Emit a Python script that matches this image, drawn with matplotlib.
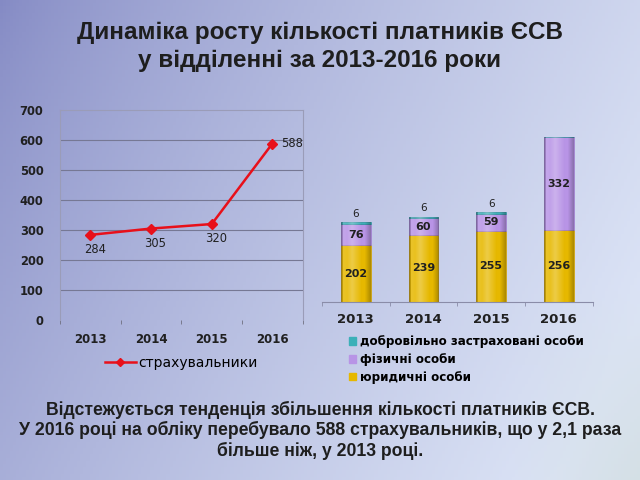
import numpy as np
import matplotlib.pyplot as plt
from matplotlib.lines import Line2D
from matplotlib.patches import Patch

years = ['2013', '2014', '2015', '2016']
insurers = [284, 305, 320, 588]
legal = [202, 239, 255, 256]
physical = [76, 60, 59, 332]
voluntary = [6, 6, 6, 0]

title = 'Динаміка росту кількості платників ЄСВ\nу відділенні за 2013-2016 роки'
note = ('Відстежується тенденція збільшення кількості платників ЄСВ.\n'
        'У 2016 році на обліку перебувало 588 страхувальників, що у 2,1 раза\n'
        'більше ніж, у 2013 році.')

fig = plt.figure(figsize=(6.4, 4.8), dpi=100)

# background gradient
bg = fig.add_axes([0, 0, 1, 1], zorder=-10)
xx, yy = np.meshgrid(np.linspace(0, 1, 200), np.linspace(0, 1, 150))
t = np.clip(0.8 * xx + 0.3 * yy, 0, 1) ** 0.75
c0 = np.array([0x84, 0x8a, 0xc4]) / 255
c1 = np.array([0xdc, 0xe4, 0xf6]) / 255
img = c0[None, None, :] * (1 - t[..., None]) + c1[None, None, :] * t[..., None]
# slight greenish tint in the bottom-right corner
g = np.clip((xx - 0.8) / 0.2, 0, 1) * np.clip((yy - 0.6) / 0.4, 0, 1)
img = img * (1 - 0.35 * g[..., None]) + np.array([0.78, 0.85, 0.78]) * 0.35 * g[..., None]
bg.imshow(img, aspect='auto', extent=[0, 1, 0, 1], origin='upper')
bg.axis('off')

fig.text(0.5, 0.903, title, ha='center', va='center', fontsize=17.5,
         fontweight='bold', family='Liberation Sans', color='#1e1e1e',
         linespacing=1.28)
fig.text(0.5, 0.104, note, ha='center', va='center', fontsize=12.7,
         fontweight='bold', family='Liberation Sans', color='#1e1e1e',
         linespacing=1.18)

# line chart
ax = fig.add_axes([0.094, 0.333, 0.379, 0.438])
ax.patch.set_alpha(0)
x = np.arange(len(years))
ax.plot(x, insurers, color='#e8101a', lw=1.8, marker='D', ms=5,
        markeredgecolor='#e8101a', zorder=3)
for i, v in enumerate(insurers):
    if i == len(insurers) - 1:
        ax.annotate(str(v), (i, v), xytext=(6, 0), textcoords='offset points',
                    ha='left', va='center', fontsize=8.3, color='#202020')
    else:
        ax.annotate(str(v), (i, v), xytext=(3, -6), textcoords='offset points',
                    ha='center', va='top', fontsize=8.3, color='#202020')
ax.set_xlim(-0.5, 3.5)
ax.set_ylim(0, 700)
ax.set_yticks(range(0, 701, 100))
ax.set_xticks(x)
ax.set_xticklabels(years, fontsize=8.5, fontweight='bold', color='#202020')
ax.set_xticks(np.arange(-0.5, 4, 1), minor=True)
ax.tick_params(axis='x', which='major', length=0, pad=9)
ax.tick_params(axis='x', which='minor', length=3, color='#707080')
ax.tick_params(axis='y', length=0, pad=12, labelsize=8.3)
for lab in ax.get_yticklabels():
    lab.set_fontweight('bold')
    lab.set_color('#202020')
for yv in range(100, 700, 100):
    ax.axhline(yv, color='#767894', lw=0.8, zorder=1)
for s in ['left', 'right', 'top']:
    ax.spines[s].set_color('#9a9cb8')
    ax.spines[s].set_linewidth(0.8)
ax.spines['bottom'].set_visible(False)
ax.legend(handles=[Line2D([0], [0], color='#e8101a', lw=1.8, marker='D', ms=4)],
          labels=['страхувальники'], loc='upper center',
          bbox_to_anchor=(0.5, -0.11), frameon=False, fontsize=10,
          handlelength=2.2, handletextpad=0.2)

# stacked bar chart
bx = fig.add_axes([0.503, 0.371, 0.423, 0.408])
bx.patch.set_alpha(0)
w = 0.44
gold, purple, teal = '#e6b800', '#b894e6', '#3cb0b8'
b1 = bx.bar(x, legal, w, color=gold, edgecolor='#c89a00', lw=0.5)
b2 = bx.bar(x, physical, w, bottom=legal, color=purple, edgecolor='#9a78c8', lw=0.5)
bot2 = [a + b for a, b in zip(legal, physical)]
b3 = bx.bar(x, voluntary, w, bottom=bot2, color=teal, edgecolor='#2a9098', lw=0.5)

# cylinder-like shading on the bars
u = np.linspace(-1, 1, 64)
shade = np.zeros((1, 64, 4))
light = np.clip(1 - np.abs(u + 0.25) * 1.6, 0, 1)
dark = np.clip(np.abs(u) - 0.6, 0, 1) / 0.4
shade[0, :, :3] = np.where(light[:, None] > 0, 1.0, 0.0)
shade[0, :, 3] = 0.28 * light + 0.25 * dark
for p in list(b1) + list(b2) + list(b3):
    if p.get_height() <= 0:
        continue
    im = bx.imshow(shade, aspect='auto', zorder=p.get_zorder() + 0.1,
                   extent=[p.get_x(), p.get_x() + p.get_width(),
                           p.get_y(), p.get_y() + p.get_height()])
    im.set_clip_path(p)

for i in range(len(years)):
    bx.text(i, legal[i] / 2, str(legal[i]), ha='center', va='center',
            fontsize=8, fontweight='bold', color='#202020', zorder=5)
    bx.text(i, legal[i] + physical[i] / 2, str(physical[i]), ha='center',
            va='center', fontsize=8, fontweight='bold', color='#202020', zorder=5)
    if voluntary[i]:
        bx.text(i, bot2[i] + voluntary[i] + 12, str(voluntary[i]), ha='center',
                va='bottom', fontsize=7.5, color='#202020')
bx.set_xlim(-0.5, 3.5)
bx.set_ylim(0, 700)
bx.set_yticks([])
bx.set_xticks(x)
bx.set_xticklabels(years, fontsize=9.5, fontweight='bold', color='#202020')
bx.set_xticks(np.arange(-0.5, 4, 1), minor=True)
bx.tick_params(axis='x', which='major', length=0, pad=8)
bx.tick_params(axis='x', which='minor', length=3, color='#8a8ca8')
for s in ['left', 'right', 'top']:
    bx.spines[s].set_visible(False)
bx.spines['bottom'].set_color('#8a8ca8')
handles = [Patch(color=teal), Patch(color=purple), Patch(color=gold)]
labels = ['добровільно застраховані особи', 'фізичні особи', 'юридичні особи']
bx.legend(handles, labels, loc='upper left', bbox_to_anchor=(0.06, -0.115),
          frameon=False, handlelength=0.6, handleheight=0.6,
          handletextpad=0.3, labelspacing=0.4,
          prop={'size': 8.6, 'weight': 'bold'})

fig.savefig('out.png', dpi=100)
